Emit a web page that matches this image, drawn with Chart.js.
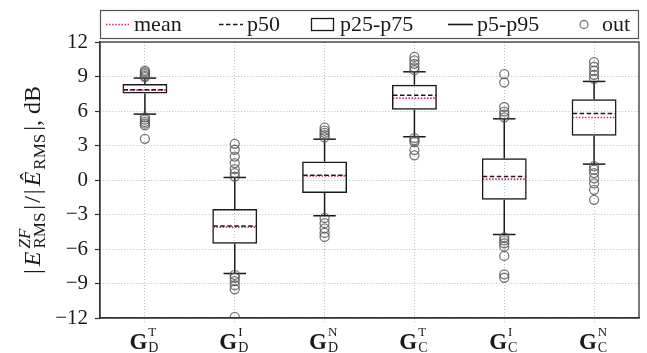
<!DOCTYPE html>
<html>
<head>
<meta charset="utf-8">
<script src="https://cdn.jsdelivr.net/npm/chart.js@4"></script>
<style>
  html, body { margin: 0; padding: 0; background: #fff; }
  #wrap { width: 647px; height: 353px; }
</style>
</head>
<body>
<div id="wrap"><canvas id="c" width="647" height="353"></canvas></div>
<script>
// Category keys and the pieces of each axis label (bold G with super/subscript)
const categories = ['G_D^T', 'G_D^I', 'G_D^N', 'G_C^T', 'G_C^I', 'G_C^N'];
const labelBase = ['G', 'G', 'G', 'G', 'G', 'G'];
const labelSup = ['T', 'I', 'N', 'T', 'I', 'N'];
const labelSub = ['D', 'D', 'D', 'C', 'C', 'C'];

// Box statistics per group, dB
const p5   = [5.73, -8.13, -3.11, 3.76, -4.74, 1.38];
const p25  = [7.52, -5.55, -1.14, 6.10, -1.72, 3.84];
const p50  = [7.84, -4.00,  0.42, 7.38,  0.30, 5.79];
const mean = [7.80, -4.10,  0.35, 7.12,  0.08, 5.44];
const p75  = [8.34, -2.53,  1.61, 8.28,  1.90, 7.03];
const p95  = [8.86,  0.22,  3.55, 9.41,  5.32, 8.57];

// Points outside the p5-p95 whiskers
const outliers = [
  [8.95, 9.05, 9.2, 9.35, 9.5, 5.45, 5.25, 5.05, 4.9, 4.75, 3.58],
  [0.3, 0.6, 0.95, 1.47, 2.04, 2.63, 3.15, -8.25, -8.5, -8.8, -9.15, -9.5, -11.9],
  [3.7, 3.9, 4.1, 4.3, 4.55, -3.3, -3.75, -4.2, -4.6, -4.95],
  [9.55, 9.8, 10.1, 10.4, 10.7, 3.65, 3.45, 3.3, 2.6, 2.15],
  [5.45, 5.7, 5.95, 6.35, 8.48, 9.2, -5.0, -5.25, -5.5, -5.8, -6.6, -8.2, -8.5],
  [8.8, 9.15, 9.5, 9.85, 10.25, 1.2, 0.9, 0.6, 0.15, -0.3, -0.85, -1.72]
];

// Value axis
const yMin = -12, yMax = 12, yStep = 3;

const legendLabels = ['mean', 'p50', 'p25-p75', 'p5-p95', 'out'];

const SERIF = '"Liberation Serif", "Times New Roman", serif';
const MEAN_COLOR = 'rgb(232,38,88)';
const OUT_COLOR = 'rgba(85,85,85,0.8)';
const INK = '#1a1a1a';
const GRID = '#bdbdbd';

const boxData = categories.map((c, i) => [p25[i], p75[i]]);
const outlierPts = [];
outliers.forEach((arr, i) => arr.forEach(v => outlierPts.push({ x: categories[i], y: v })));

function hline(ctx, x1, x2, y, color, width, dash) {
  ctx.save();
  ctx.strokeStyle = color;
  ctx.lineWidth = width;
  ctx.setLineDash(dash || []);
  ctx.beginPath();
  ctx.moveTo(x1, y);
  ctx.lineTo(x2, y);
  ctx.stroke();
  ctx.restore();
}

// Draws a run of text pieces; pieces may be raised/lowered or stacked
function drawRich(ctx, segs, x, y, measureOnly) {
  let cx = x;
  for (const s of segs) {
    if (s.gap) { cx += s.gap; continue; }
    if (s.stack) {
      let w = 0;
      for (const p of s.stack) {
        ctx.font = p.f;
        const pw = ctx.measureText(p.t).width;
        if (!measureOnly) ctx.fillText(p.t, cx, y + (p.dy || 0));
        w = Math.max(w, pw);
      }
      cx += w;
      continue;
    }
    ctx.font = s.f;
    if (!measureOnly) ctx.fillText(s.t, cx, y + (s.dy || 0));
    cx += ctx.measureText(s.t).width;
  }
  return cx - x;
}

const boxParts = {
  id: 'boxParts',
  beforeDatasetsDraw(chart) {
    const { ctx, scales: { x, y } } = chart;
    const bars = chart.getDatasetMeta(0).data;
    categories.forEach((c, i) => {
      const cx = x.getPixelForValue(i);
      const hw = bars[i].width / 2;
      const cap = hw / 2;
      ctx.save();
      ctx.strokeStyle = INK;
      ctx.lineWidth = 1.5;
      ctx.beginPath();
      ctx.moveTo(cx, y.getPixelForValue(p5[i]));
      ctx.lineTo(cx, y.getPixelForValue(p25[i]));
      ctx.moveTo(cx, y.getPixelForValue(p75[i]));
      ctx.lineTo(cx, y.getPixelForValue(p95[i]));
      ctx.stroke();
      ctx.restore();
      hline(ctx, cx - cap, cx + cap, y.getPixelForValue(p5[i]), INK, 1.5);
      hline(ctx, cx - cap, cx + cap, y.getPixelForValue(p95[i]), INK, 1.5);
    });
  },
  afterDatasetsDraw(chart) {
    const { ctx, scales: { x, y } } = chart;
    const bars = chart.getDatasetMeta(0).data;
    categories.forEach((c, i) => {
      const cx = x.getPixelForValue(i);
      const hw = bars[i].width / 2 - 1;
      hline(ctx, cx - hw, cx + hw, y.getPixelForValue(mean[i]), MEAN_COLOR, 1.6, [1.5, 1.6]);
      hline(ctx, cx - hw, cx + hw, y.getPixelForValue(p50[i]), INK, 1.5, [4.5, 2.5]);
    });
  },
  afterDraw(chart) {
    const { ctx, chartArea: a, scales: { x } } = chart;

    // plot frame
    ctx.save();
    ctx.strokeStyle = '#333';
    ctx.lineWidth = 1.3;
    ctx.strokeRect(a.left, a.top, a.right - a.left, a.bottom - a.top);
    ctx.restore();

    // category labels: bold G with superscript and subscript
    ctx.save();
    ctx.fillStyle = INK;
    ctx.textBaseline = 'alphabetic';
    categories.forEach((c, i) => {
      const cx = x.getPixelForValue(i);
      ctx.font = 'bold 23px ' + SERIF;
      const wG = ctx.measureText(labelBase[i]).width;
      ctx.font = '13px ' + SERIF;
      const wSup = ctx.measureText(labelSup[i]).width;
      ctx.font = '14px ' + SERIF;
      const wSub = ctx.measureText(labelSub[i]).width;
      const total = wG + 1 + Math.max(wSup, wSub);
      const x0 = cx - total / 2 - 1;
      ctx.font = 'bold 23px ' + SERIF;
      ctx.fillText(labelBase[i], x0, 348.5);
      ctx.font = '13px ' + SERIF;
      ctx.fillText(labelSup[i], x0 + wG + 1, 335.5);
      ctx.font = '14px ' + SERIF;
      ctx.fillText(labelSub[i], x0 + wG + 1, 351.5);
    });
    ctx.restore();

    // y-axis title  |E^{ZF}_{RMS}| / |Ê_{RMS}|, dB
    const main = '24px ' + SERIF, ital = 'italic 24px ' + SERIF;
    const scr = '17px ' + SERIF, scrIt = 'italic 17px ' + SERIF;
    const segs = [
      { t: '|', f: main }, { gap: 3 },
      { t: 'E', f: ital }, { gap: 3 },
      { stack: [{ t: 'ZF', f: scrIt, dy: -10 }, { t: 'RMS', f: scr, dy: 5 }] }, { gap: 3 },
      { t: '|', f: main }, { gap: 2 },
      { t: '/', f: main }, { gap: 2 },
      { t: '|', f: main }, { gap: 3 },
      { t: '\u00CA', f: ital }, { gap: 2 },
      { t: 'RMS', f: scr, dy: 5 }, { gap: 3 },
      { t: '|', f: main },
      { t: ',', f: main }, { gap: 6 },
      { t: 'dB', f: main }
    ];
    ctx.save();
    ctx.fillStyle = INK;
    ctx.textBaseline = 'alphabetic';
    ctx.translate(40, (a.top + a.bottom) / 2);
    ctx.rotate(-Math.PI / 2);
    const w = drawRich(ctx, segs, 0, 0, true);
    drawRich(ctx, segs, -w / 2, 0, false);
    ctx.restore();

    // legend
    ctx.save();
    ctx.strokeStyle = '#555';
    ctx.lineWidth = 1.2;
    ctx.strokeRect(a.left + 0.5, 10.5, a.right - a.left - 1, 28);
    const ly = 24.5, tb = 31;
    hline(ctx, 106, 129, ly, MEAN_COLOR, 1.6, [1.5, 1.6]);
    hline(ctx, 219, 243, ly, INK, 1.5, [4.5, 2.5]);
    ctx.strokeStyle = INK;
    ctx.lineWidth = 1.3;
    ctx.strokeRect(311.5, 18.5, 22, 12);
    hline(ctx, 448, 473, ly, INK, 1.6);
    ctx.strokeStyle = OUT_COLOR;
    ctx.lineWidth = 1.3;
    ctx.beginPath();
    ctx.arc(584, ly, 4, 0, Math.PI * 2);
    ctx.stroke();
    ctx.fillStyle = INK;
    ctx.font = '22px ' + SERIF;
    ctx.textBaseline = 'alphabetic';
    const lx = [134, 247, 340, 477, 602];
    legendLabels.forEach((t, i) => ctx.fillText(t, lx[i], tb));
    ctx.restore();
  }
};

new Chart(document.getElementById('c'), {
  type: 'bar',
  data: {
    labels: categories,
    datasets: [
      {
        type: 'bar',
        label: 'p25-p75',
        data: boxData,
        backgroundColor: 'rgba(0,0,0,0)',
        borderColor: INK,
        borderWidth: 1.5,
        borderSkipped: false,
        barPercentage: 0.5,
        categoryPercentage: 1,
        order: 2
      },
      {
        type: 'scatter',
        label: 'out',
        data: outlierPts,
        pointRadius: 4.5,
        pointBorderWidth: 1.3,
        pointBorderColor: OUT_COLOR,
        pointBackgroundColor: 'rgba(0,0,0,0)',
        clip: 0,
        order: 1
      }
    ]
  },
  options: {
    responsive: false,
    animation: false,
    devicePixelRatio: 1,
    layout: { padding: { top: 42, right: 8, left: 0, bottom: 0 } },
    plugins: { legend: { display: false }, tooltip: { enabled: false } },
    scales: {
      x: {
        offset: true,
        grid: { offset: false, color: GRID, lineWidth: 1, tickLength: 5, tickColor: GRID, tickBorderDash: [1, 2] },
        border: { display: true, color: '#333', width: 1.3, dash: [1, 2] },
        ticks: { display: false },
        afterFit(s) { s.height = 35; }
      },
      y: {
        min: yMin,
        max: yMax,
        ticks: {
          stepSize: yStep,
          padding: 7,
          color: INK,
          font: { family: SERIF, size: 21 },
          callback: v => v < 0 ? '\u2212' + Math.abs(v) : String(v)
        },
        grid: { color: GRID, lineWidth: 1, tickLength: 5, tickColor: '#333', tickWidth: 1.2, tickBorderDash: [] },
        border: { display: true, color: '#333', width: 1.3, dash: [1, 2] },
        afterFit(s) { s.width = 100; }
      }
    }
  },
  plugins: [boxParts]
});
</script>
</body>
</html>
